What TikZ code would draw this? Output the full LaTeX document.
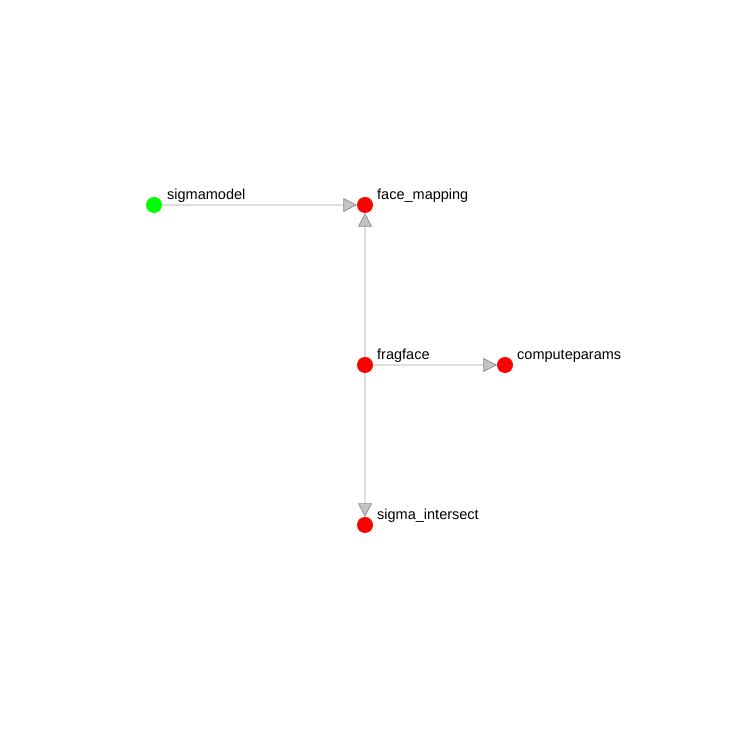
\documentclass[tikz,border=0pt]{standalone}
\usepackage{fontspec}
\setmainfont{Liberation Sans}
\usetikzlibrary{arrows.meta}
\definecolor{edgegray}{HTML}{DDDDDD}
\definecolor{tipfill}{HTML}{C4C4C4}
\definecolor{tipdraw}{HTML}{8A8A8A}
\tikzset{
  vert/.style={circle, inner sep=0pt, minimum size=16pt, draw=none},
  redv/.style={vert, fill={rgb,255:red,255;green,0;blue,0}},
  greenv/.style={vert, fill={rgb,255:red,0;green,255;blue,0}},
  lbl/.style={anchor=base west, inner sep=0pt, font=\fontsize{14.5}{17}\selectfont},
  edge/.style={draw=edgegray, line width=1.1pt,
    -{Triangle[length=13.5pt, width=14pt, fill=tipfill, color=tipdraw, line width=0.7pt]}}
}
\begin{document}
\begin{tikzpicture}[x=1pt,y=1pt]
\useasboundingbox (0,0) rectangle (730,730);
\node[greenv] (sigmamodel) at (154,525) {};
\node[redv] (face) at (365,525) {};
\node[redv] (frag) at (365,365) {};
\node[redv] (comp) at (505,365) {};
\node[redv] (inter) at (365,205) {};
\node[lbl] (l1) at (167,530) {sigmamodel};
\node[lbl] (l2) at (377,530) {face\_mapping};
\node[lbl] (l3) at (377,370) {fragface};
\node[lbl] (l4) at (517,370) {computeparams};
\node[lbl] (l5) at (377,210) {sigma\_intersect};
\draw[edge] (sigmamodel) -- (face);
\draw[edge] (frag) -- (face);
\draw[edge] (frag) -- (comp);
\draw[edge] (frag) -- (inter);
\end{tikzpicture}
\end{document}
